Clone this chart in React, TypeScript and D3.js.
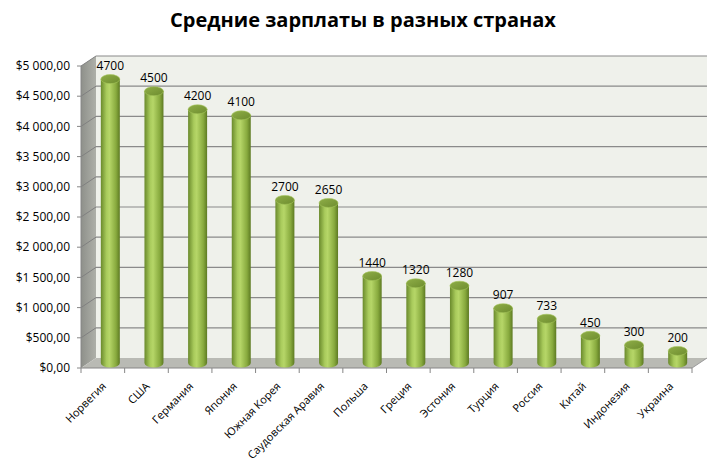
import React from 'react';
import * as d3 from 'd3';

const countries = [
  'Норвегия', 'США', 'Германия', 'Япония', 'Южная Корея', 'Саудовская Аравия',
  'Польша', 'Греция', 'Эстония', 'Турция', 'Россия', 'Китай', 'Индонезия', 'Украина'
];
const salaries = [4700, 4500, 4200, 4100, 2700, 2650, 1440, 1320, 1280, 907, 733, 450, 300, 200];
const yTicks = [0, 500, 1000, 1500, 2000, 2500, 3000, 3500, 4000, 4500, 5000];

const WIDTH = 726;
const HEIGHT = 472;
const DX = 15; // глубина по x
const DY = -10; // глубина по y
const FONT = '"Open Sans", "Noto Sans", sans-serif';

const fmt = (v: number) => {
  const s = d3.format(',.2f')(v);
  return '$' + s.replace(/,/g, ' ').replace('.', ',');
};

export default function App() {
  const x = d3.scaleBand<string>().domain(countries).range([81, 692]).paddingInner(0).paddingOuter(0);
  const y = d3.scaleLinear().domain([0, 5000]).range([368, 66]);

  const x0 = 81, x1 = 692;
  const y0 = y(0), yTop = y(5000);
  const cylW = 19;
  const ry = 4.5;

  return (
    <svg width={WIDTH} height={HEIGHT} style={{ position: 'absolute', left: 0, top: 0 }} fontFamily={FONT}>
      <defs>
        <linearGradient id="cyl" x1="0" x2="1" y1="0" y2="0">
          <stop offset="0" stopColor="#6a8a2c" />
          <stop offset="0.3" stopColor="#a9cb5c" />
          <stop offset="0.45" stopColor="#b6d668" />
          <stop offset="0.8" stopColor="#88aa3e" />
          <stop offset="1" stopColor="#5d7a22" />
        </linearGradient>
        <linearGradient id="cylTop" x1="0" x2="1" y1="0" y2="1">
          <stop offset="0" stopColor="#8fae48" />
          <stop offset="1" stopColor="#6d8c2e" />
        </linearGradient>
        <linearGradient id="leftWall" x1="0" x2="1" y1="0" y2="0">
          <stop offset="0" stopColor="#8e908a" />
          <stop offset="1" stopColor="#aeb0a9" />
        </linearGradient>
      </defs>
      <rect width={WIDTH} height={HEIGHT} fill="#ffffff" />

      {/* заголовок */}
      <text x={363} y={27} textAnchor="middle" fontSize={20} fontWeight="bold" fill="#000">
        Средние зарплаты в разных странах
      </text>

      {/* задняя стенка */}
      <rect x={x0 + DX} y={yTop + DY} width={x1 - x0} height={y0 - yTop} fill="#eff1eb" />
      {/* левая стенка */}
      <path
        d={`M${x0},${yTop} L${x0 + DX},${yTop + DY} L${x0 + DX},${y0 + DY} L${x0},${y0} Z`}
        fill="url(#leftWall)"
      />
      {/* пол */}
      <path
        d={`M${x0},${y0} L${x0 + DX},${y0 + DY} L${x1 + DX},${y0 + DY} L${x1},${y0} Z`}
        fill="#b9bab4"
      />

      {/* сетка */}
      {yTicks.map(t => {
        const yy = y(t);
        return (
          <g key={t}>
            {t > 0 && (
              <>
                <line x1={x0} y1={yy} x2={x0 + DX} y2={yy + DY} stroke="#808080" strokeWidth={1} />
                <line x1={x0 + DX} y1={yy + DY} x2={x1 + DX} y2={yy + DY} stroke="#8a8a8a" strokeWidth={1.2} />
              </>
            )}
            <line x1={x0 - 4} y1={yy} x2={x0} y2={yy} stroke="#868686" />
            <text x={70} y={yy} dy="0.35em" textAnchor="end" fontSize={12} fill="#000">
              {fmt(t)}
            </text>
          </g>
        );
      })}
      <line x1={x0} y1={yTop} x2={x0} y2={y0} stroke="#868686" />
      <line x1={x0} y1={y0} x2={x1} y2={y0} stroke="#868686" />
      <line x1={x1} y1={y0} x2={x1 + DX} y2={y0 + DY} stroke="#9a9a9a" />

      {/* деления оси x */}
      {countries.map(c => {
        const xx = x(c)!;
        return <line key={c} x1={xx} y1={y0} x2={xx} y2={y0 + 5} stroke="#868686" />;
      })}
      <line x1={x1} y1={y0} x2={x1} y2={y0 + 5} stroke="#868686" />

      {/* цилиндры */}
      {countries.map((c, i) => {
        const v = salaries[i];
        const cx = x(c)! + x.bandwidth() / 2 + DX / 2;
        const base = y(0) + DY / 2;
        const top = y(v) + DY / 2;
        const l = cx - cylW / 2;
        const r = cx + cylW / 2;
        return (
          <g key={c}>
            <path
              d={`M${l},${top} L${l},${base} A${cylW / 2},${ry} 0 0 0 ${r},${base} L${r},${top} Z`}
              fill="url(#cyl)"
            />
            <ellipse cx={cx} cy={top} rx={cylW / 2} ry={ry} fill="url(#cylTop)" stroke="#a5c45a" strokeWidth={0.6} />
            <text x={cx} y={top - 9} textAnchor="middle" fontSize={12} fill="#000">
              {v}
            </text>
          </g>
        );
      })}

      {/* подписи категорий */}
      {countries.map(c => {
        const cx = x(c)! + x.bandwidth() / 2 + 4;
        const yy = y0 + 19;
        return (
          <text
            key={c}
            x={cx}
            y={yy}
            textAnchor="end"
            fontSize={11}
            fill="#000"
            transform={`rotate(-45, ${cx}, ${yy})`}
          >
            {c}
          </text>
        );
      })}
    </svg>
  );
}
